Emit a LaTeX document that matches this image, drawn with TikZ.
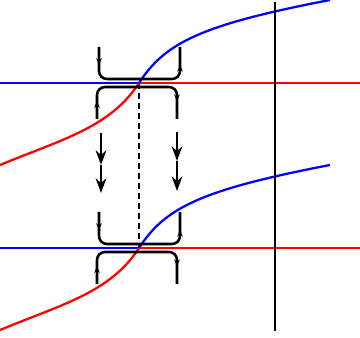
\documentclass[tikz,border=0pt]{standalone}
\usetikzlibrary{arrows.meta,decorations.markings}
\tikzset{
  curve/.style={line width=1.7pt},
  brk/.style={line width=1.9pt,rounded corners=6pt,postaction={decorate},
    decoration={markings,
      mark=at position 0.13 with {\arrow{Stealth[length=5pt,width=4.2pt]}},
      mark=at position 0.87 with {\arrow{Stealth[length=5pt,width=4.2pt]}}}},
  drop/.style={line width=1.8pt,-{Stealth[length=11pt,width=8pt]}},
  axl/.style={line width=1.6pt},
  guide/.style={line width=1.1pt,dash pattern=on 4.5pt off 3pt}
}
\begin{document}
\begin{tikzpicture}[x=0.75pt,y=-0.75pt]
\useasboundingbox (0,0) rectangle (360,338);
\coordinate (cu) at (139,83);
\coordinate (cl) at (139,248);
\draw[guide] (cu) -- (cl);
\foreach \dy in {0,165}{
  \coordinate (c) at (139,83+\dy);
  \draw[blue,curve] (0,83+\dy) -- (c);
  \draw[red,curve] (c) -- (360,83+\dy);
  \draw[red,curve] (0,165+\dy) .. controls (60,140+\dy) and (110,128+\dy) .. (c);
  \draw[blue,curve] (c) .. controls (165,43+\dy) and (200,25+\dy) .. (330,\dy);
  \draw[brk] (99,47+\dy) -- (99,79+\dy) -- (180,79+\dy) -- (180,47+\dy);
  \draw[brk] (97,119+\dy) -- (97,87+\dy) -- (177,87+\dy) -- (177,119+\dy);
}
\coordinate (la) at (101,133);
\coordinate (lb) at (101,165);
\coordinate (lc) at (101,193);
\coordinate (ra) at (177,132);
\coordinate (rb) at (177,161);
\coordinate (rc) at (177,191);
\draw[drop] (la) -- (lb);
\draw[drop] (lb) -- (lc);
\draw[drop] (ra) -- (rb);
\draw[drop] (rb) -- (rc);
\draw[axl] (275,2) -- (275,331);
\end{tikzpicture}
\end{document}
